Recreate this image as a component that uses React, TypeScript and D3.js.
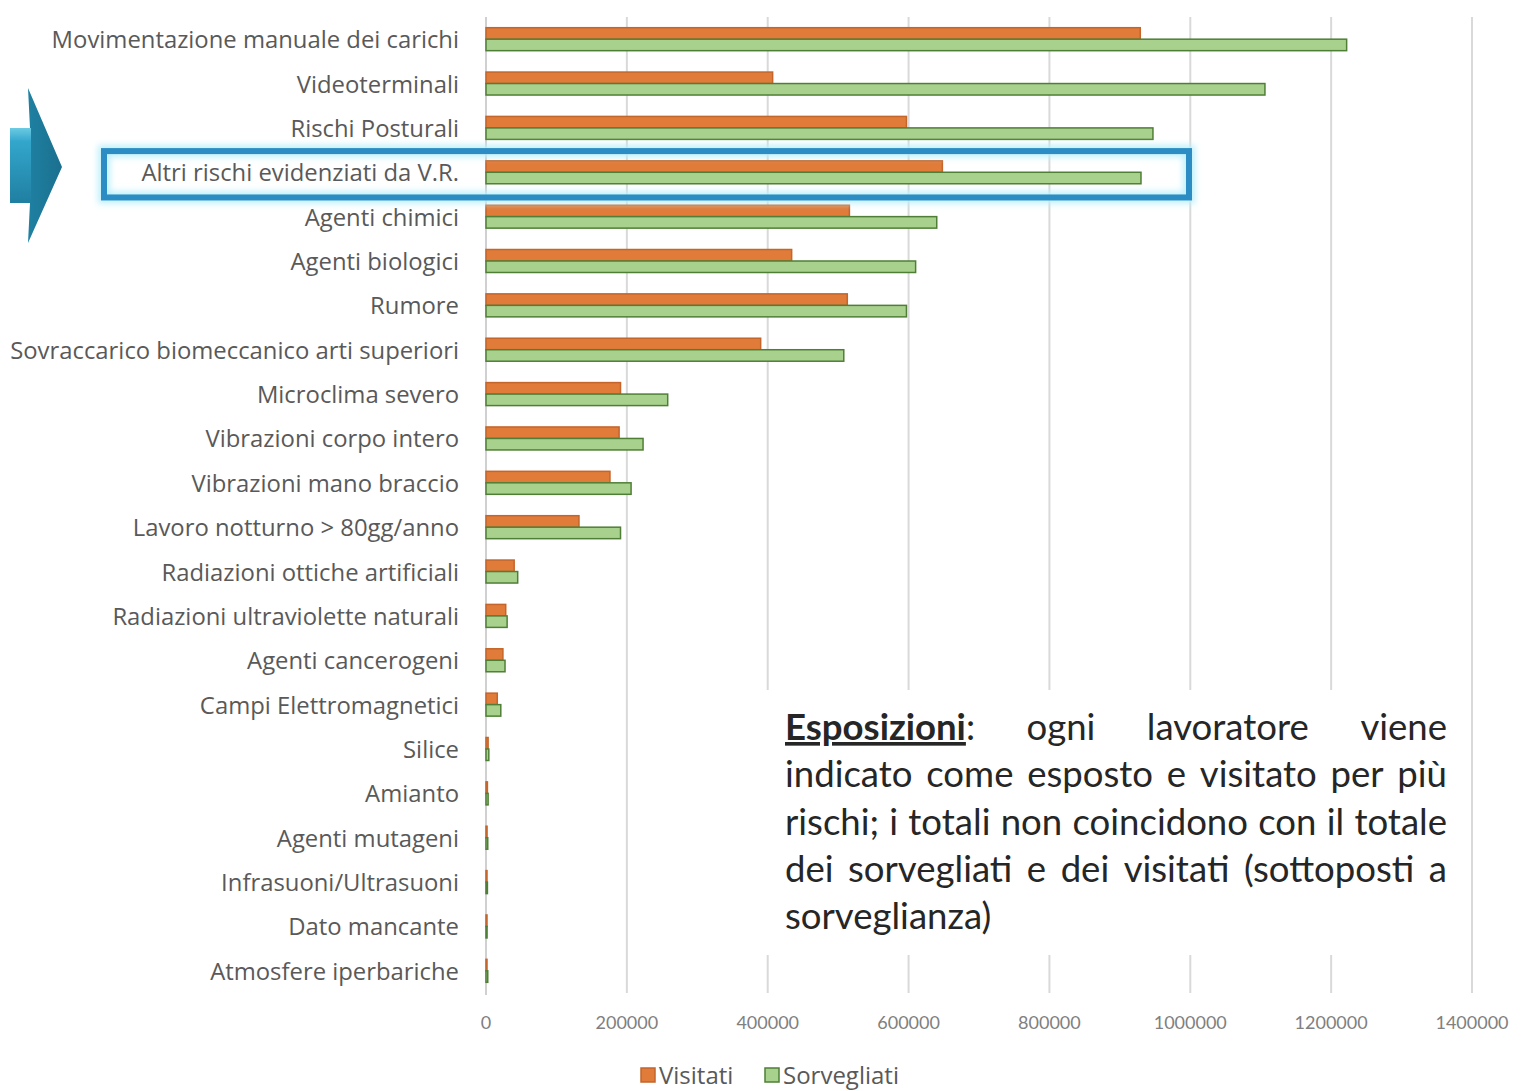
import React, { useMemo } from "react";
import * as d3 from "d3";

const categories = [
  "Movimentazione manuale dei carichi",
  "Videoterminali",
  "Rischi Posturali",
  "Altri rischi evidenziati da V.R.",
  "Agenti chimici",
  "Agenti biologici",
  "Rumore",
  "Sovraccarico biomeccanico arti superiori",
  "Microclima severo",
  "Vibrazioni corpo intero",
  "Vibrazioni mano braccio",
  "Lavoro notturno > 80gg/anno",
  "Radiazioni ottiche artificiali",
  "Radiazioni ultraviolette naturali",
  "Agenti cancerogeni",
  "Campi Elettromagnetici",
  "Silice",
  "Amianto",
  "Agenti mutageni",
  "Infrasuoni/Ultrasuoni",
  "Dato mancante",
  "Atmosfere iperbariche",
];

const visitati = [929000, 407000, 597000, 648000, 516000, 434000, 513000, 390000, 191000, 189000, 176000, 132000, 40000, 28000, 24000, 16000, 3000, 2000, 1500, 1000, 500, 1000];
const sorvegliati = [1222000, 1106000, 947000, 930000, 640000, 610000, 597000, 508000, 258000, 223000, 206000, 191000, 45000, 30000, 27000, 21000, 4000, 3000, 2500, 2000, 1500, 2500];

const seriesNames = ["Visitati", "Sorvegliati"];
const xTicks = [0, 200000, 400000, 600000, 800000, 1000000, 1200000, 1400000];
const highlighted = "Altri rischi evidenziati da V.R.";

const noteLines = [
  ["Esposizioni:", "ogni", "lavoratore", "viene"],
  ["indicato", "come", "esposto", "e", "visitato", "per", "più"],
  ["rischi;", "i", "totali", "non", "coincidono", "con", "il", "totale"],
  ["dei", "sorvegliati", "e", "dei", "visitati", "(sottoposti", "a"],
  ["sorveglianza)"],
];

const FONT = "Lato, 'Open Sans', sans-serif";
const LABEL_FONT = "'Open Sans', Lato, sans-serif";

export default function App() {
  const W = 1525, H = 1091;
  const x = d3.scaleLinear().domain([0, 1400000]).range([486, 1472]);
  const y = d3.scaleBand<string>().domain(categories).range([17, 993]).padding(0);
  const inner = d3.scaleBand<string>().domain(seriesNames).range([0, y.bandwidth()]).paddingInner(0).paddingOuter(0.93);

  const noteLeft = 785, noteRight = 1447, noteTop = 740, noteLH = 47.3;

  const { layout, noteFontSize, labelFontSize } = useMemo(() => {
    const canvas = document.createElement("canvas");
    const ctx = canvas.getContext("2d")!;
    const measureF = (w: string, size: number, family: string, bold = false) => {
      ctx.font = `${bold ? "bold " : ""}${size}px ${family}`;
      return ctx.measureText(w).width;
    };
    const lw = measureF("Sovraccarico biomeccanico arti superiori", 20, LABEL_FONT);
    const labelFontSize = Math.min(24.5, (20 * 449) / lw);
    const l3 = measureF(noteLines[2].join(" "), 32, FONT);
    const noteFontSize = Math.min(38, (32 * (noteRight - noteLeft - 6)) / l3);
    const measure = (w: string, bold: boolean) => measureF(w, noteFontSize, FONT, bold);
    const layout = noteLines.map((words, li) => {
      const widths = words.map((w, i) => {
        if (li === 0 && i === 0) return measure("Esposizioni", true) + measure(":", false);
        return measure(w, false);
      });
      const total = d3.sum(widths);
      const last = li === noteLines.length - 1;
      const gap = last || words.length < 2 ? measure(" ", false) : (noteRight - noteLeft - total) / (words.length - 1);
      let cx = noteLeft;
      return words.map((w, i) => {
        const pos = cx;
        cx += widths[i] + gap;
        return { w, x: pos };
      });
    });
    return { layout, noteFontSize, labelFontSize };
  }, []);

  const hy = y(highlighted)!;

  return (
    <svg width={W} height={H} style={{ position: "absolute", left: 0, top: 0, background: "#fff" }} fontFamily={FONT}>
      <defs>
        <linearGradient id="arrowBody" x1="0" y1="0" x2="0" y2="1">
          <stop offset="0" stopColor="#6ccbe4" />
          <stop offset="0.18" stopColor="#33a6cc" />
          <stop offset="1" stopColor="#1f7fa1" />
        </linearGradient>
        <linearGradient id="arrowHead" x1="0" y1="0" x2="1" y2="0">
          <stop offset="0" stopColor="#218aad" />
          <stop offset="1" stopColor="#1b6f8e" />
        </linearGradient>
        <filter id="glow" x="-5%" y="-50%" width="110%" height="200%">
          <feGaussianBlur stdDeviation="3" />
        </filter>
      </defs>

      {/* gridlines */}
      {xTicks.slice(1).map((t) => (
        <line key={t} x1={x(t)} x2={x(t)} y1={17} y2={993} stroke="#d9d9d9" strokeWidth={2} />
      ))}
      <line x1={x(0)} x2={x(0)} y1={17} y2={995} stroke="#d0d0d0" strokeWidth={2} />

      {/* bars */}
      {categories.map((c, i) => {
        const y0 = y(c)!;
        const vals = [visitati[i], sorvegliati[i]];
        return (
          <g key={c}>
            {seriesNames.map((s, j) => (
              <rect
                key={s}
                x={x(0)}
                y={y0 + inner(s)!}
                width={Math.max(1, x(vals[j]) - x(0))}
                height={inner.bandwidth()}
                fill={j === 0 ? "#e07b39" : "#a9d18e"}
                stroke={j === 0 ? "#c4652b" : "#4f7f36"}
                strokeWidth={1.5}
              />
            ))}
          </g>
        );
      })}

      {/* category labels */}
      {categories.map((c) => (
        <text key={c} x={459} y={y(c)! + y.bandwidth() / 2 + 9} textAnchor="end" fontSize={labelFontSize} fill="#595959" fontFamily={LABEL_FONT}>
          {c}
        </text>
      ))}

      {/* x tick labels */}
      {xTicks.map((t) => (
        <text key={t} x={x(t)} y={1029} textAnchor="middle" fontSize={18} fill="#808080">
          {d3.format("d")(t)}
        </text>
      ))}

      {/* legend */}
      <g fontFamily={LABEL_FONT} fontSize={24} fill="#595959">
        <rect x={641} y={1068} width={14} height={14} fill="#e07b39" stroke="#c4652b" strokeWidth={1.5} />
        <text x={659} y={1084}>Visitati</text>
        <rect x={765} y={1068} width={14} height={14} fill="#a9d18e" stroke="#4f7f36" strokeWidth={1.5} />
        <text x={783} y={1084}>Sorvegliati</text>
      </g>

      {/* highlight box */}
      <rect x={104} y={hy + 1} width={1085} height={y.bandwidth() + 2} fill="none" stroke="#bdf0fb" strokeWidth={12} filter="url(#glow)" />
      <rect x={104} y={hy + 1} width={1085} height={y.bandwidth() + 2} fill="none" stroke="#2b8dc3" strokeWidth={6} />

      {/* arrow */}
      <path d="M10,128 L30,128 L28,88 L62,167 L28,243 L30,203 L10,203 Z" fill="url(#arrowHead)" />
      <path d="M10,128 L31,128 L31,203 L10,203 Z" fill="url(#arrowBody)" />

      {/* note box */}
      <rect x={765} y={690} width={697} height={265} fill="#ffffff" />
      {layout.map((line, li) => (
        <g key={li}>
          {line.map((wd, wi) =>
            li === 0 && wi === 0 ? (
              <text key={wi} x={wd.x} y={noteTop} fontSize={noteFontSize} fill="#262626">
                <tspan fontWeight="bold" textDecoration="underline">Esposizioni</tspan>
                <tspan>:</tspan>
              </text>
            ) : (
              <text key={wi} x={wd.x} y={noteTop + li * noteLH} fontSize={noteFontSize} fill="#262626">
                {wd.w}
              </text>
            )
          )}
        </g>
      ))}
    </svg>
  );
}
